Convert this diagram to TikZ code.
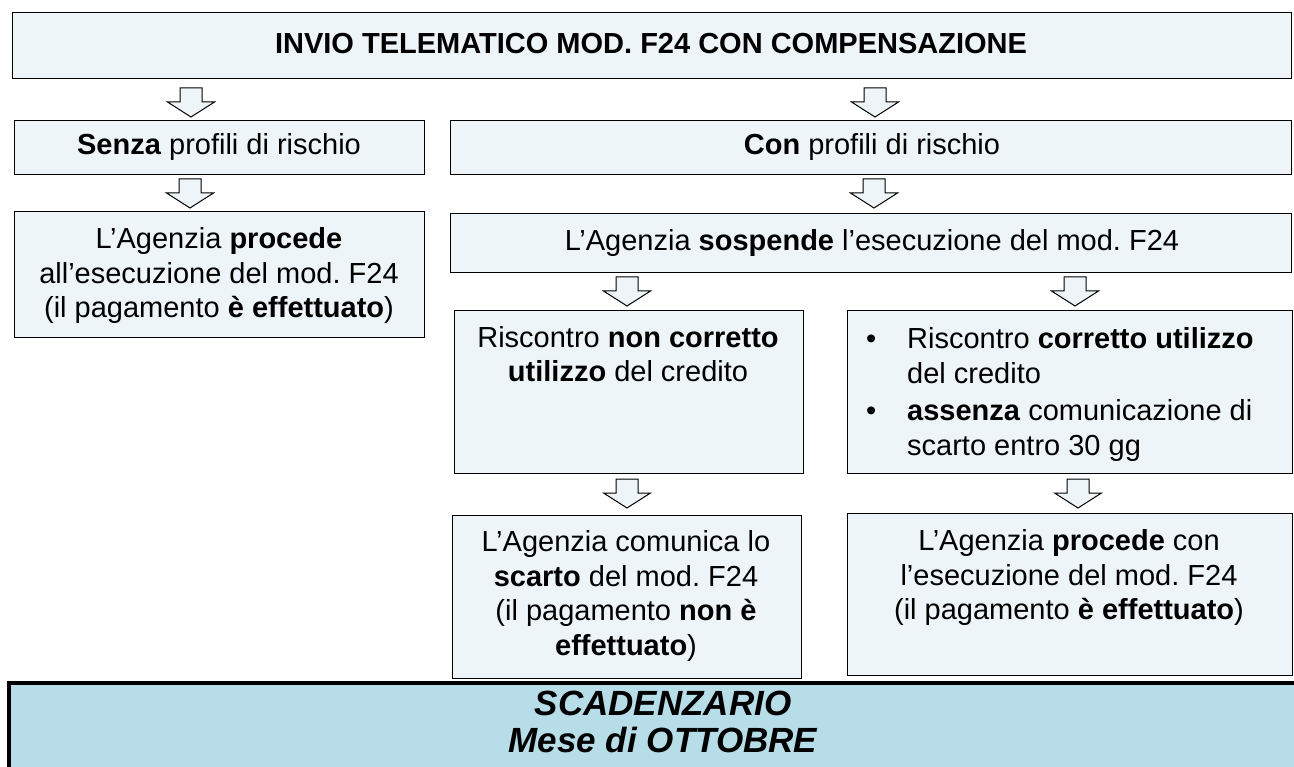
\documentclass[tikz,border=0pt]{standalone}
\usepackage{fontspec}
\setmainfont{Liberation Sans}
\definecolor{boxfill}{HTML}{EDF5F9}
\definecolor{bandfill}{HTML}{B7DDE8}
\frenchspacing
\begin{document}
\begin{tikzpicture}[x=1pt,y=-1pt,
  box/.style={draw=black, line width=1.4pt, fill=boxfill, inner sep=0pt, anchor=north west},
  band/.style={draw=black, line width=4pt, fill=bandfill, inner sep=0pt, anchor=north west},
  txt/.style={align=center, font=\fontsize{29}{34.5}\selectfont, inner sep=0pt},
  bandtxt/.style={align=center, font=\fontsize{35}{37}\selectfont\bfseries\itshape, inner sep=0pt},
  arrowline/.style={draw=black, line width=1pt, fill=boxfill, line join=miter},
  barrow/.pic={\path[arrowline] (-11,0) -- (11,0) -- (11,14) -- (23.5,14) -- (0,29) -- (-23.5,14) -- (-11,14) -- cycle;}
]
\useasboundingbox (0,0) rectangle (1294,767);
\clip (0,0) rectangle (1294,767);

% boxes
\node[box, minimum width=1279, minimum height=66] (top) at (12,12) {};
\node[box, minimum width=410, minimum height=54] (senza) at (14,120) {};
\node[box, minimum width=841, minimum height=54] (con) at (450,120) {};
\node[box, minimum width=410, minimum height=126] (proc) at (14,211) {};
\node[box, minimum width=841, minimum height=59] (sosp) at (450,213) {};
\node[box, minimum width=349, minimum height=163] (nonc) at (454,310) {};
\node[box, minimum width=445, minimum height=163] (corr) at (847,310) {};
\node[box, minimum width=349, minimum height=163] (scarto) at (452,515) {};
\node[box, minimum width=445, minimum height=162] (procon) at (847,513) {};
\node[band, minimum width=1330, minimum height=110] (band) at (7,681) {};

% texts
\node[txt] (ttop) at (651,44) {\textbf{INVIO TELEMATICO MOD. F24 CON COMPENSAZIONE}};
\node[txt] (tsenza) at (219,147) {\textbf{Senza} profili di rischio};
\node[txt] (tcon) at (872,147) {\textbf{Con} profili di rischio};
\node[txt] (tproc) at (219,276) {L’Agenzia \textbf{procede}\\all’esecuzione del mod. F24\\(il pagamento \textbf{è effettuato})};
\node[txt] (tsosp) at (872,243) {L’Agenzia \textbf{sospende} l’esecuzione del mod. F24};
\node[txt] (tnonc) at (628,354) {Riscontro \textbf{non corretto}\\\textbf{utilizzo} del credito};
\node[txt, anchor=west, align=left] (tcorr) at (866,395) {%
  \begin{tabular}{@{}p{41pt}@{}l@{}}
  \textbullet & Riscontro \textbf{corretto utilizzo}\\
  & del credito\\[3pt]
  \textbullet & \textbf{assenza} comunicazione di\\
  & scarto entro 30 gg
  \end{tabular}};
\node[txt] (tscarto) at (626,596) {L’Agenzia comunica lo\\\textbf{scarto} del mod. F24\\(il pagamento \textbf{non è}\\\textbf{effettuato})};
\node[txt] (tprocon) at (1069,578) {L’Agenzia \textbf{procede} con\\l’esecuzione del mod. F24\\(il pagamento \textbf{è effettuato})};
\node[bandtxt] (tband) at (663,722) {SCADENZARIO\\Mese di OTTOBRE};

% block arrows
\pic (a1) at (191,88) {barrow};
\pic (a2) at (875,88) {barrow};
\pic (a3) at (190,179) {barrow};
\pic (a4) at (874,179) {barrow};
\pic (a5) at (627,277) {barrow};
\pic (a6) at (1075,277) {barrow};
\pic (a7) at (627,479) {barrow};
\pic (a8) at (1078,479) {barrow};
\end{tikzpicture}
\end{document}
